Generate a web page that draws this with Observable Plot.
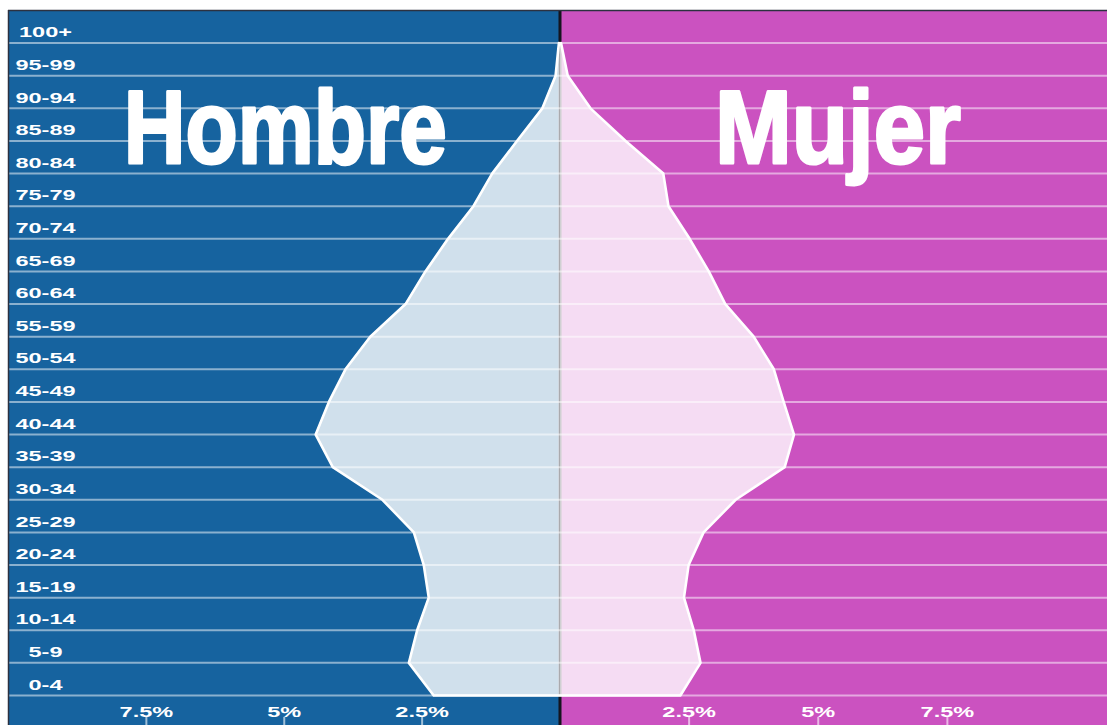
<!DOCTYPE html>
<html><head><meta charset="utf-8">
<script src="https://cdn.jsdelivr.net/npm/d3@7"></script>
<script src="https://cdn.jsdelivr.net/npm/@observablehq/plot@0.6"></script>
<style>html,body{margin:0;padding:0;background:#fff} svg{display:block}</style>
</head><body><div id="chart"></div>
<script>
// ---- data (percent of population) ----
const ageGroups = ["0-4","5-9","10-14","15-19","20-24","25-29","30-34","35-39","40-44","45-49","50-54","55-59","60-64","65-69","70-74","75-79","80-84","85-89","90-94","95-99","100+"];
const hombre = [2.29,2.74,2.59,2.38,2.47,2.65,3.22,4.12,4.43,4.19,3.89,3.44,2.80,2.44,2.03,1.57,1.23,0.78,0.32,0.08,0.02];
const mujer  = [2.33,2.72,2.59,2.40,2.49,2.78,3.40,4.35,4.53,4.33,4.14,3.75,3.20,2.88,2.51,2.10,2.00,1.27,0.59,0.15,0.02];
const tickValues = [-7.5,-5,-2.5,2.5,5,7.5];
const tickLabels = ["7.5%","5%","2.5%","2.5%","5%","7.5%"];
const sexLabels = ["Hombre","Mujer"];

// ---- layout / style ----
const W = 1107, H = 725;
const xMin = -10, xMax = 10.6;
const yMin = -0.92, yMax = 21;
const blue = "#16639f", magenta = "#cb52c0";
const font = "'Liberation Sans', Arial, Helvetica, sans-serif";

const rows = ageGroups.map((g, i) => ({g, i, m: hombre[i], w: mujer[i]}));
const outline = [
  ...rows.slice().reverse().map(d => ({x: -d.m, y: d.i})),
  ...rows.map(d => ({x: d.w, y: d.i}))
];

const svg = Plot.plot({
  width: W, height: H,
  marginLeft: 8, marginRight: 0, marginTop: 10, marginBottom: 0,
  x: {type: "linear", domain: [xMin, 0, xMax], range: [8, 559.5, W], axis: null},
  y: {domain: [yMin, yMax], range: [H, 10], axis: null},
  marks: [
    Plot.rect([0], {x1: xMin, x2: 0, y1: yMin, y2: yMax, fill: blue}),
    Plot.rect([0], {x1: 0, x2: xMax, y1: yMin, y2: yMax, fill: magenta}),
    Plot.text([sexLabels[0]], {x: -4.98, y: 17.36, text: d => d, fill: "white", stroke: "white", strokeWidth: 3, strokeLinejoin: "round",
      fontSize: 104, fontWeight: "bold", fontFamily: "'Liberation Sans Narrow', " + font, textAnchor: "middle", lineAnchor: "middle"}),
    Plot.text([sexLabels[1]], {x: 5.38, y: 17.36, text: d => d, fill: "white", stroke: "white", strokeWidth: 3, strokeLinejoin: "round",
      fontSize: 104, fontWeight: "bold", fontFamily: "'Liberation Sans Narrow', " + font, textAnchor: "middle", lineAnchor: "middle"}),
    Plot.ruleX([0], {stroke: "#15151f", strokeWidth: 3}),
    Plot.areaX(rows, {y: "i", x1: 0, x2: d => -d.m, fill: "white", fillOpacity: 0.8}),
    Plot.areaX(rows, {y: "i", x1: 0, x2: "w", fill: "white", fillOpacity: 0.8}),
    Plot.ruleY(rows, {y: "i", stroke: "white", strokeOpacity: 0.5, strokeWidth: 2}),
    Plot.line(outline, {x: "x", y: "y", stroke: "white", strokeWidth: 2.6, curve: "linear"}),
    Plot.text(rows, {y: d => d.i + 0.5, text: "g", frameAnchor: "left", dx: 37, dy: 6, fill: "white",
      fontSize: 14, fontWeight: "bold", fontFamily: font, textAnchor: "middle", lineAnchor: "middle"}),
    Plot.text(tickValues, {x: d => d, text: (d, i) => tickLabels[i], frameAnchor: "bottom", dy: -12.5, fill: "white",
      fontSize: 14, fontWeight: "bold", fontFamily: font, textAnchor: "middle", lineAnchor: "middle"}),
    Plot.ruleX(tickValues, {x: d => d, y1: yMin, y2: yMin + 0.25, stroke: "white", strokeOpacity: 0.6, strokeWidth: 2}),
    Plot.ruleX([xMin], {stroke: "#2c3140", strokeWidth: 1.5}),
    Plot.ruleY([yMax], {stroke: "#2c3140", strokeWidth: 1.5})
  ]
});
document.getElementById("chart").appendChild(svg);

// horizontal stretch of the labels, as in the reference rendering
const sexWidths = {"Hombre": 323, "Mujer": 246};
d3.select(svg).selectAll("text").each(function() {
  const t = this.textContent;
  const len = this.getComputedTextLength();
  const target = sexWidths[t] != null ? sexWidths[t] : len * 1.68;
  this.setAttribute("textLength", target);
  this.setAttribute("lengthAdjust", "spacingAndGlyphs");
});
</script>
</body></html>
